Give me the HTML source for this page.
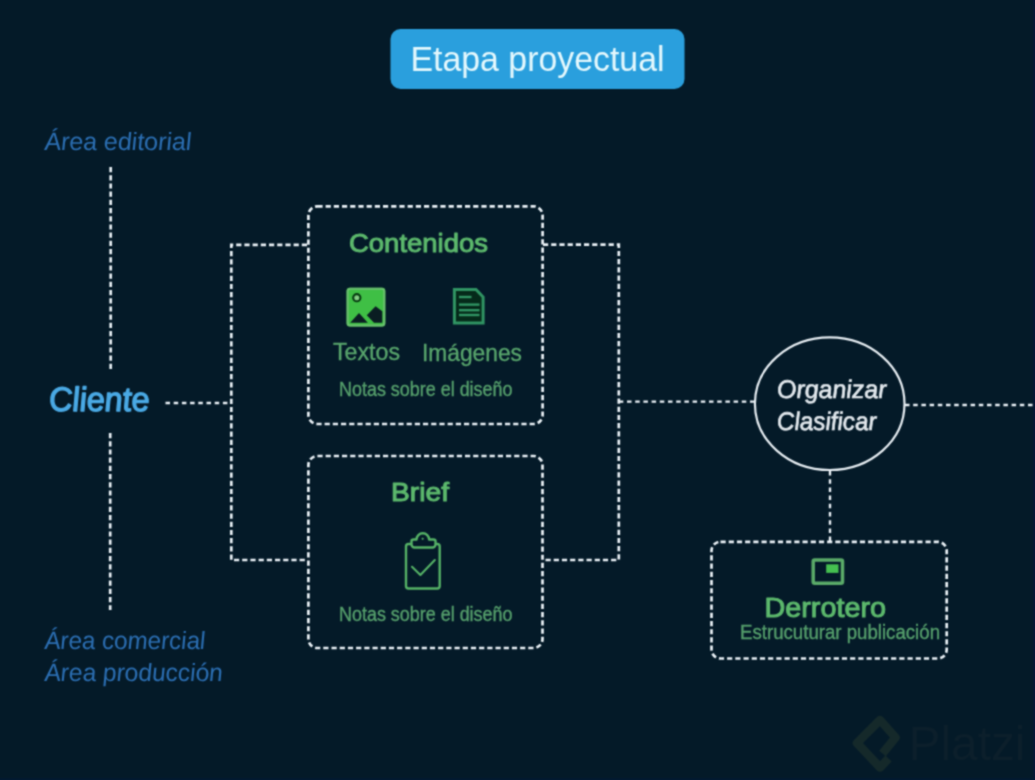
<!DOCTYPE html>
<html><head><meta charset="utf-8">
<style>
html,body{margin:0;padding:0;background:#041a28;width:1035px;height:780px;overflow:hidden}
svg{display:block}

text{font-family:"Liberation Sans",sans-serif}
</style></head>
<body>
<div id="wrap"><svg width="1035" height="780" viewBox="0 0 1035 780">
<defs><filter id="bl" color-interpolation-filters="sRGB" x="0" y="0" width="1035" height="780" filterUnits="userSpaceOnUse"><feConvolveMatrix order="3" kernelMatrix="1 2 1 2 6 2 1 2 1" divisor="18" edgeMode="duplicate"/></filter></defs><g filter="url(#bl)"><rect x="0" y="0" width="1035" height="780" fill="#041a28"/>

<!-- title button -->
<rect x="390.5" y="29" width="294" height="60" rx="10" fill="#2a9fdd"/>
<text x="410.5" y="71" font-size="35" fill="#e4f8fd" textLength="254" lengthAdjust="spacingAndGlyphs">Etapa proyectual</text>

<!-- left labels -->
<text transform="translate(-14.49 0) skewX(5.5)" x="45" y="150.5" font-size="25" font-style="italic" fill="#2b6eb2" textLength="147" lengthAdjust="spacingAndGlyphs">Área editorial</text>
<text transform="translate(-39.57 0) skewX(5.5)" x="50" y="411" font-size="34" font-style="italic" fill="#4aa9e4" stroke="#4aa9e4" stroke-width="1.4" stroke-linejoin="round" textLength="100.5" lengthAdjust="spacingAndGlyphs">Cliente</text>
<text transform="translate(-62.54 0) skewX(5.5)" x="45" y="649.5" font-size="25" font-style="italic" fill="#2b6eb2" textLength="161" lengthAdjust="spacingAndGlyphs">Área comercial</text>
<text transform="translate(-65.57 0) skewX(5.5)" x="45" y="681" font-size="25" font-style="italic" fill="#2b6eb2" textLength="178.5" lengthAdjust="spacingAndGlyphs">Área producción</text>

<!-- dotted lines -->
<g fill="none" stroke="#eaf1f6" stroke-width="2.7" stroke-dasharray="5.2 3">
  <path d="M110.7 167 V370"/>
  <path d="M110.2 433 V610"/>
  <path d="M307 244.8 H231.3 V560 H307"/>
  <path d="M543 244.7 H618.8 V560 H543"/>
  <rect x="308.4" y="206.3" width="234.2" height="217.7" rx="9"/>
  <rect x="308.4" y="456" width="234.1" height="192" rx="9"/>
  <rect x="711.5" y="541.8" width="235.2" height="116.7" rx="9"/>
</g>
<g fill="none" stroke="#eaf1f6" stroke-width="2.4" stroke-dasharray="4.5 3.7">
  <path d="M165.5 403 H231.3"/>
  <path d="M618.8 401.6 H754"/>
  <path d="M905 405 H1035"/>
  <path d="M830 471 V542"/>
</g>

<!-- circle -->
<ellipse cx="829.7" cy="403.7" rx="74.8" ry="66.3" fill="none" stroke="#e6edf2" stroke-width="2.2"/>
<text transform="translate(-27.86 0) skewX(4)" x="777.5" y="398.4" font-size="25.5" font-style="italic" fill="#e2e8ed" stroke="#e2e8ed" stroke-width="0.65" textLength="109.5" lengthAdjust="spacingAndGlyphs">Organizar</text>
<text transform="translate(-30.04 0) skewX(4)" x="777.5" y="429.6" font-size="25.5" font-style="italic" fill="#e2e8ed" stroke="#e2e8ed" stroke-width="0.65" textLength="99.5" lengthAdjust="spacingAndGlyphs">Clasificar</text>

<!-- Contenidos box -->
<text x="349" y="252" font-size="26" fill="#5cb86c" stroke="#5cb86c" stroke-width="1" stroke-linejoin="round" textLength="139" lengthAdjust="spacingAndGlyphs">Contenidos</text>
<!-- image icon -->
<rect x="346.6" y="287.8" width="38.7" height="38.6" rx="3" fill="#3fbf45"/>
<rect x="347.6" y="288.8" width="36.7" height="36.6" rx="2.5" fill="none" stroke="#6cbf70" stroke-width="2"/>
<circle cx="356.8" cy="297.7" r="3.6" fill="#84cc84" stroke="#063a10" stroke-width="2.1"/>
<path d="M350.2 322.8 L359 313 L367.8 322.8 Z" fill="#0a1d22"/>
<path d="M366.8 315.2 L375.6 306.2 L382.3 311.3 L382.3 322.8 L374 322.8 Z" fill="#0a1d22"/>
<!-- doc icon -->
<path d="M454.4 289.4 H476 L483.1 297 V323.1 H454.4 Z" fill="#052a1a" stroke="#309463" stroke-width="3"/>
<g stroke="#309463" stroke-width="2.4">
  <path d="M459 297 H471.5"/>
  <path d="M459 304.6 H479.5"/>
  <path d="M459 310.2 H479.5"/>
  <path d="M459 315 H479.5"/>
</g>
<text x="333" y="359.7" font-size="24.5" fill="#58a56c" stroke="#58a56c" stroke-width="0.35" textLength="67" lengthAdjust="spacingAndGlyphs">Textos</text>
<text x="422" y="361.3" font-size="24.5" fill="#58a56c" stroke="#58a56c" stroke-width="0.35" textLength="100" lengthAdjust="spacingAndGlyphs">Imágenes</text>
<text x="339" y="396.3" font-size="19.5" fill="#56a06c" stroke="#56a06c" stroke-width="0.35" textLength="173.5" lengthAdjust="spacingAndGlyphs">Notas sobre el diseño</text>

<!-- Brief box -->
<text x="391" y="501" font-size="25.5" fill="#5cb86c" stroke="#5cb86c" stroke-width="1" stroke-linejoin="round" textLength="58" lengthAdjust="spacingAndGlyphs">Brief</text>
<g fill="none" stroke="#55b266" stroke-width="2.4" stroke-linejoin="round" stroke-linecap="round">
  <rect x="406" y="544" width="33.7" height="44.5" rx="2.5"/>
  <path d="M411.5 541 Q411.5 539.5 413.5 539.5 H416.5 A6.3 6.3 0 0 1 429.1 539.5 H433.5 Q435.5 539.5 435.5 541 V544.5 A3 3 0 0 1 432.5 547.5 H414.5 A3 3 0 0 1 411.5 544.5 Z" fill="#041a28"/>
  <circle cx="422.5" cy="538.8" r="0.6" fill="#55b266" stroke-width="1"/>
  <path d="M412 566.8 L420.4 574.9 L434.8 560.1" stroke-width="2.1"/>
</g>
<text x="339" y="620.5" font-size="19.5" fill="#56a06c" stroke="#56a06c" stroke-width="0.35" textLength="173.5" lengthAdjust="spacingAndGlyphs">Notas sobre el diseño</text>

<!-- Derrotero box -->
<rect x="813.2" y="560" width="29.3" height="23.2" rx="1.5" fill="none" stroke="#5aaa68" stroke-width="3.5"/>
<rect x="826.2" y="564.3" width="12.3" height="8.6" fill="#45c050"/>
<text x="764.5" y="617.4" font-size="27" fill="#5cb86c" stroke="#5cb86c" stroke-width="1" stroke-linejoin="round" textLength="121.5" lengthAdjust="spacingAndGlyphs">Derrotero</text>
<text x="740" y="638.7" font-size="19.5" fill="#56a06c" stroke="#56a06c" stroke-width="0.35" textLength="200" lengthAdjust="spacingAndGlyphs">Estrucuturar publicación</text>

<!-- platzi watermark -->
<g>
  <path d="M882.5 753.5 L895.5 737.5 L880 720 L857 743 L880 767.5 L888.5 758.5" fill="none" stroke="#15292a" stroke-width="8.6" stroke-linejoin="round"/>
  <text x="908.5" y="760.3" font-size="48.5" fill="#0c1f2b" textLength="117" lengthAdjust="spacingAndGlyphs">Platzi</text>
</g>
<rect x="1033.3" y="0" width="1.7" height="780" fill="#07143a" opacity="0.7"/>
<rect x="0" y="778.2" width="1035" height="1.8" fill="#031a35" opacity="0.8"/>
</g></svg></div>
</body></html>
